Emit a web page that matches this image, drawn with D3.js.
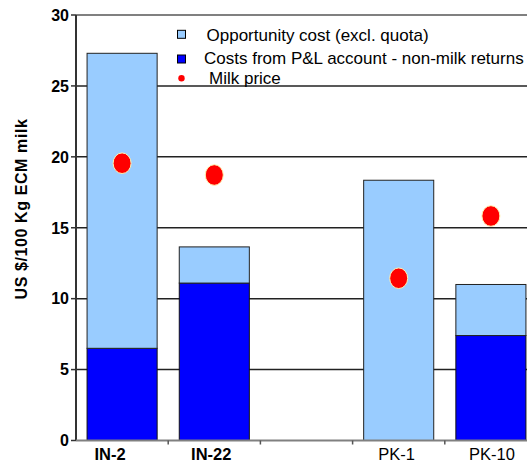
<!DOCTYPE html>
<html>
<head>
<meta charset="utf-8">
<script src="https://cdn.jsdelivr.net/npm/d3@7"></script>
<style>
  html, body { margin: 0; padding: 0; background: #fff; }
  svg { display: block; font-family: "Liberation Sans", Arial, sans-serif; }
</style>
</head>
<body>
<svg id="chart" width="527" height="465"></svg>
<script>
// ---- data ----
const categories = ["IN-2", "IN-22", "", "PK-1", "PK-10"];
const boldLabels = [true, true, false, false, false];
const plCosts = [6.5, 11.1, null, 0, 7.4];          // Costs from P&L account - non-milk returns
const opportunityCost = [20.8, 2.55, null, 18.35, 3.6]; // Opportunity cost (excl. quota), stacked on top
const milkPrice = [19.55, 18.72, null, 11.44, 15.83];
const yTicks = [0, 5, 10, 15, 20, 25, 30];
const legendLabels = ["Opportunity cost (excl. quota)", "Costs from P&L account - non-milk returns", "Milk price"];
const yTitle = "US $/100 Kg ECM milk";

// ---- layout ----
const labelDx = [-12, -3, 0, -2, 1];
const svg = d3.select("#chart");
const keys = categories.map((c, i) => "k" + i);
const x = d3.scaleBand().domain(keys).range([76, 537]).paddingInner(0.24).paddingOuter(0.12);
const y = d3.scaleLinear().domain([0, 30]).range([440.5, 15]);

const lightBlue = "#99CCFF", darkBlue = "#0000FF";

// gridlines
svg.append("g").selectAll("line").data(yTicks.filter(t => t > 0 && t < 30)).join("line")
  .attr("x1", 76).attr("x2", 537)
  .attr("y1", d => y(d)).attr("y2", d => y(d))
  .attr("stroke", "#222").attr("stroke-width", 1.5);
// top border
svg.append("line").attr("x1", 76).attr("x2", 537).attr("y1", y(30)).attr("y2", y(30))
  .attr("stroke", "#808080").attr("stroke-width", 2);

// bars
const rows = categories.map((c, i) => ({ key: keys[i], pl: plCosts[i], opp: opportunityCost[i], milk: milkPrice[i] }))
  .filter(d => d.pl !== null);

const gBars = svg.append("g");
rows.forEach(d => {
  if (d.pl > 0) {
    gBars.append("rect")
      .attr("x", x(d.key)).attr("width", x.bandwidth())
      .attr("y", y(d.pl)).attr("height", y(0) - y(d.pl))
      .attr("fill", darkBlue).attr("stroke", "#111").attr("stroke-width", 1);
  }
  gBars.append("rect")
    .attr("x", x(d.key)).attr("width", x.bandwidth())
    .attr("y", y(d.pl + d.opp)).attr("height", y(d.pl) - y(d.pl + d.opp))
    .attr("fill", lightBlue).attr("stroke", "#222").attr("stroke-width", 1);
});

// milk price dots
svg.append("g").selectAll("ellipse").data(rows).join("ellipse")
  .attr("cx", d => x(d.key) + x.bandwidth() / 2)
  .attr("cy", d => y(d.milk))
  .attr("rx", 9).attr("ry", 10.3)
  .attr("fill", "#FF0000").attr("stroke", "#FFF2B0").attr("stroke-width", 1);

// y axis
const yAxis = svg.append("g");
yAxis.append("line").attr("x1", 76).attr("x2", 76).attr("y1", y(30)).attr("y2", y(0))
  .attr("stroke", "#333").attr("stroke-width", 2);
yAxis.selectAll("line.tk").data(yTicks).join("line").attr("class", "tk")
  .attr("x1", 71).attr("x2", 76).attr("y1", d => y(d)).attr("y2", d => y(d))
  .attr("stroke", "#333").attr("stroke-width", 1.5);
yAxis.selectAll("text").data(yTicks).join("text")
  .attr("x", 69).attr("y", d => y(d)).attr("dy", "0.36em")
  .attr("text-anchor", "end").attr("font-size", 16).attr("font-weight", "bold")
  .attr("fill", "#000").text(d => d);

// x axis
const xAxis = svg.append("g");
xAxis.append("line").attr("x1", 76).attr("x2", 537).attr("y1", y(0)).attr("y2", y(0))
  .attr("stroke", "#808080").attr("stroke-width", 2);
xAxis.selectAll("line.tk").data(keys.slice(1)).join("line").attr("class", "tk")
  .attr("x1", d => x(d) - x.step() * x.paddingInner() / 2)
  .attr("x2", d => x(d) - x.step() * x.paddingInner() / 2)
  .attr("y1", y(0)).attr("y2", y(0) + 4)
  .attr("stroke", "#555").attr("stroke-width", 1.5);
xAxis.selectAll("text").data(categories.map((c, i) => ({ c, k: keys[i], b: boldLabels[i], dx: labelDx[i] }))).join("text")
  .attr("x", d => x(d.k) + x.bandwidth() / 2).attr("dx", d => d.dx).attr("y", 460)
  .attr("text-anchor", "middle").attr("font-size", 16.5)
  .attr("font-weight", d => d.b ? "bold" : "normal")
  .attr("fill", "#000").text(d => d.c);

// y title
svg.append("text")
  .attr("transform", "translate(27,209) rotate(-90)")
  .attr("text-anchor", "middle").attr("font-size", 16).attr("font-weight", "bold")
  .attr("letter-spacing", 0.6)
  .text(yTitle);

// legend
const leg = svg.append("g");
leg.append("rect").attr("x", 177.5).attr("y", 30.3).attr("width", 8).attr("height", 8)
  .attr("fill", lightBlue).attr("stroke", "#000").attr("stroke-width", 1);
leg.append("rect").attr("x", 177.5).attr("y", 55).attr("width", 8).attr("height", 8)
  .attr("fill", darkBlue).attr("stroke", "#000").attr("stroke-width", 1);
leg.append("circle").attr("cx", 181.5).attr("cy", 78.3).attr("r", 3.2).attr("fill", "#FF0000");
const legX = [206.5, 204, 209], legY = [41, 64.3, 84.3];
legendLabels.forEach((t, i) => {
  leg.append("text").attr("x", legX[i]).attr("y", legY[i]).attr("font-size", 17).attr("fill", "#000").text(t);
});
</script>
</body>
</html>
